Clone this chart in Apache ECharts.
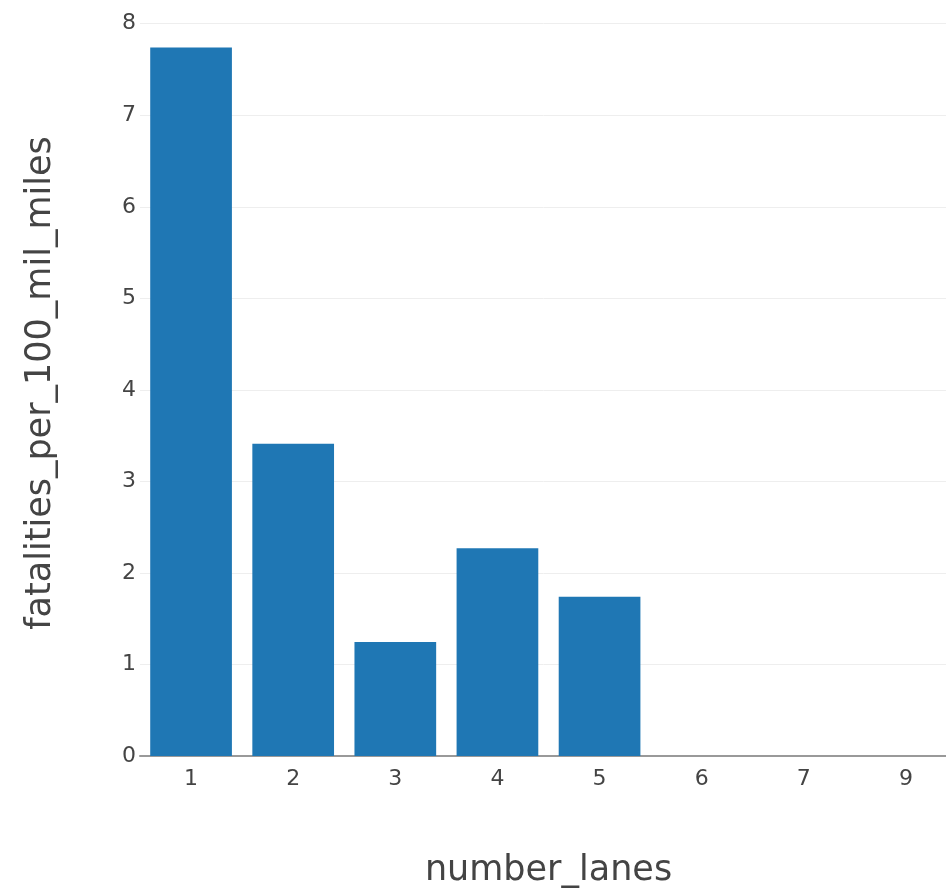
<!DOCTYPE html>
<html><head><meta charset="utf-8">
<script src="https://cdn.jsdelivr.net/npm/echarts@6/dist/echarts.min.js"></script>
<style>html,body{margin:0;padding:0;background:#fff;overflow:hidden}#c{width:946px;height:890px}</style>
</head><body><div id="c"></div>
<script>
const categories = ['1','2','3','4','5','6','7','9'];
const values = [7.74, 3.41, 1.245, 2.27, 1.74, 0, 0, 0];
const yTicks = [0,1,2,3,4,5,6,7,8];
const yRangeMax = 8.15;
const font = '"DejaVu Sans", Verdana, sans-serif';
const chart = echarts.init(document.getElementById('c'));
chart.setOption({
  animation: false,
  grid: {left: 140, right: -11, top: 10, bottom: 134, containLabel: false, outerBoundsMode: 'none'},
  xAxis: {
    type: 'category', data: categories,
    name: 'number_lanes', nameLocation: 'middle', nameGap: 97,
    nameTextStyle: {fontFamily: font, fontSize: 35, color: '#444'},
    axisLine: {lineStyle: {color: '#999', width: 2}},
    axisTick: {show: false},
    axisLabel: {fontFamily: font, fontSize: 22, color: '#444', margin: 12}
  },
  yAxis: {
    type: 'value', min: yTicks[0], max: yRangeMax, interval: 1,
    name: 'fatalities_per_100_mil_miles', nameLocation: 'middle', nameGap: 82,
    nameTextStyle: {fontFamily: font, fontSize: 35, color: '#444'},
    axisLine: {show: false}, axisTick: {show: false},
    axisLabel: {fontFamily: font, fontSize: 22, color: '#444', margin: 4, showMaxLabel: false,
      formatter: v => (yTicks.indexOf(v) >= 0 ? String(v) : '')},
    splitLine: {showMaxLine: false, lineStyle: {color: '#eee', width: 1}}
  },
  series: [{
    type: 'bar', data: values, barCategoryGap: '20%',
    itemStyle: {color: '#1f77b4'}
  }]
});
</script></body></html>
